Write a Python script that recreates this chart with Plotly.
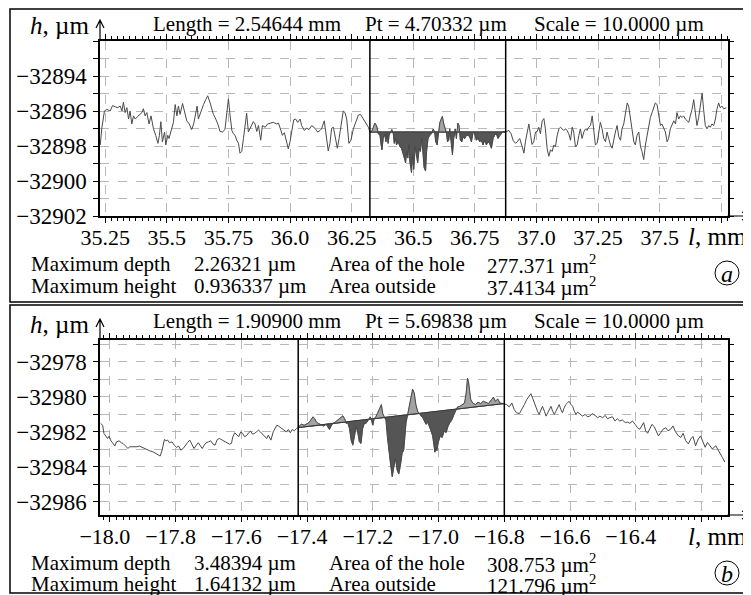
import numpy as np
import plotly.graph_objects as go

W, H = 751, 595
SERIF = "Liberation Serif"

# ── Panel (a): measured profile, l in mm, h in µm ────────────────────────────
x_a = [
    35.230, 35.236, 35.247, 35.257, 35.270, 35.280, 35.291, 35.301, 35.311, 35.318,
    35.324, 35.331, 35.338, 35.345, 35.351, 35.358, 35.365, 35.372, 35.382, 35.392,
    35.399, 35.405, 35.412, 35.419, 35.428, 35.436, 35.446, 35.455, 35.464, 35.470,
    35.476, 35.482, 35.491, 35.496, 35.504, 35.509, 35.518, 35.527, 35.534, 35.541,
    35.547, 35.554, 35.564, 35.572, 35.581, 35.591, 35.601, 35.609, 35.618, 35.623,
    35.628, 35.639, 35.649, 35.658, 35.666, 35.676, 35.682, 35.689, 35.696, 35.707,
    35.716, 35.726, 35.736, 35.743, 35.750, 35.757, 35.764, 35.770, 35.777, 35.784,
    35.791, 35.797, 35.804, 35.811, 35.818, 35.824, 35.831, 35.838, 35.845, 35.851,
    35.858, 35.865, 35.872, 35.881, 35.888, 35.899, 35.909, 35.919, 35.932, 35.946,
    35.953, 35.961, 35.969, 35.977, 35.986, 35.993, 36.000, 36.007, 36.015, 36.023,
    36.031, 36.041, 36.047, 36.058, 36.068, 36.077, 36.088, 36.101, 36.112, 36.122,
    36.128, 36.139, 36.149, 36.155, 36.162, 36.169, 36.176, 36.182, 36.192, 36.199,
    36.209, 36.216, 36.223, 36.230, 36.239, 36.247, 36.257, 36.266, 36.277, 36.286,
    36.297, 36.307, 36.318, 36.324,
    36.331, 36.338, 36.344, 36.351, 36.358, 36.365, 36.369, 36.373, 36.378, 36.385,
    36.389, 36.394, 36.398, 36.402, 36.408, 36.413, 36.419, 36.423, 36.428, 36.432,
    36.439, 36.446, 36.452, 36.459, 36.464, 36.469, 36.473, 36.478, 36.482, 36.486,
    36.493, 36.497, 36.502, 36.508, 36.513, 36.518, 36.524, 36.529, 36.535, 36.540,
    36.544, 36.550, 36.554, 36.560, 36.567, 36.574, 36.581, 36.587, 36.591, 36.597,
    36.601, 36.608, 36.613, 36.618, 36.624, 36.629, 36.635, 36.639, 36.644, 36.648,
    36.654, 36.659, 36.664, 36.670, 36.675, 36.681, 36.686, 36.691, 36.697, 36.702,
    36.709, 36.716, 36.722, 36.729, 36.736, 36.743, 36.749, 36.756, 36.763, 36.770,
    36.776, 36.783, 36.790, 36.797, 36.803, 36.810, 36.817, 36.824, 36.830, 36.837,
    36.844, 36.851, 36.857, 36.864, 36.875,
    36.888, 36.897, 36.905, 36.915, 36.924, 36.932, 36.942, 36.949, 36.955, 36.962,
    36.969, 36.976, 36.982, 36.989, 36.996, 37.003, 37.009, 37.016, 37.023, 37.030,
    37.036, 37.043, 37.050, 37.057, 37.064, 37.070, 37.077, 37.084, 37.091, 37.097,
    37.104, 37.111, 37.118, 37.124, 37.131, 37.138, 37.145, 37.151, 37.158, 37.165,
    37.172, 37.178, 37.185, 37.192, 37.199, 37.205, 37.212, 37.219, 37.226, 37.232,
    37.239, 37.246, 37.253, 37.259, 37.266, 37.273, 37.280, 37.286, 37.293, 37.300,
    37.307, 37.314, 37.320, 37.327, 37.334, 37.341, 37.347, 37.354, 37.361, 37.368,
    37.374, 37.381, 37.388, 37.395, 37.401, 37.408, 37.415, 37.422, 37.428, 37.435,
    37.442, 37.449, 37.455, 37.462, 37.469, 37.476, 37.482, 37.489, 37.496, 37.503,
    37.509, 37.516, 37.523, 37.530, 37.536, 37.543, 37.550, 37.557, 37.564, 37.570,
    37.577, 37.584, 37.591, 37.597, 37.604, 37.611, 37.618, 37.624, 37.631, 37.638,
    37.645, 37.651, 37.658, 37.665, 37.672, 37.678, 37.685, 37.692, 37.699, 37.705,
    37.712, 37.719, 37.726, 37.732, 37.739, 37.746, 37.753, 37.759, 37.770,
]
h_a = [
    -32897.94, -32897.02, -32896.00, -32895.91, -32896.00, -32895.69, -32895.76, -32895.81, -32895.72, -32896.00,
    -32895.50, -32896.09, -32895.81, -32896.46, -32896.00, -32896.74, -32896.28, -32896.46, -32896.31, -32896.19,
    -32896.09, -32895.87, -32896.28, -32896.09, -32896.74, -32896.28, -32897.02, -32897.39, -32897.85, -32897.39,
    -32896.61, -32897.76, -32897.20, -32897.94, -32897.39, -32897.57, -32897.11, -32896.65, -32895.63, -32896.28,
    -32895.72, -32896.19, -32895.57, -32896.00, -32896.56, -32896.74, -32897.06, -32896.74, -32896.19, -32895.72,
    -32896.46, -32896.00, -32895.63, -32895.35, -32895.13, -32895.54, -32895.91, -32896.19, -32896.37, -32896.74,
    -32897.17, -32897.20, -32897.06, -32896.09, -32895.31, -32896.28, -32897.11, -32897.30, -32897.39, -32897.67,
    -32897.85, -32898.41, -32898.31, -32897.57, -32896.83, -32896.13, -32897.20, -32897.02, -32896.83, -32896.61,
    -32896.74, -32897.17, -32896.83, -32897.67, -32896.83, -32896.93, -32896.74, -32896.69, -32896.65, -32896.74,
    -32896.69, -32897.02, -32897.39, -32897.24, -32897.76, -32898.17, -32897.76, -32897.20, -32896.50, -32896.46,
    -32896.65, -32896.46, -32896.83, -32897.11, -32896.98, -32897.06, -32896.83, -32896.98, -32897.20, -32897.11,
    -32897.02, -32896.56, -32897.76, -32898.28, -32897.85, -32896.98, -32896.93, -32897.39, -32898.13, -32897.57,
    -32896.46, -32896.00, -32896.09, -32896.46, -32897.85, -32897.67, -32897.02, -32896.65, -32896.24, -32896.19,
    -32896.46, -32896.74, -32896.93, -32897.20,
    -32897.17, -32896.93, -32896.69, -32896.83, -32897.30, -32897.39, -32897.94, -32898.22, -32897.57, -32897.35,
    -32897.76, -32897.30, -32897.85, -32897.39, -32897.20, -32897.06, -32897.30, -32897.85, -32897.57, -32897.94,
    -32897.76, -32898.04, -32898.13, -32898.41, -32898.69, -32898.96, -32898.31, -32898.69, -32897.94, -32898.87,
    -32899.52, -32898.50, -32899.33, -32898.04, -32898.69, -32898.96, -32898.13, -32898.31, -32897.57, -32898.59,
    -32899.24, -32899.43, -32898.31, -32897.57, -32897.39, -32897.30, -32897.02, -32897.20, -32897.76, -32897.94,
    -32897.30, -32896.65, -32896.46, -32896.31, -32896.74, -32897.02, -32897.30, -32897.76, -32897.67, -32897.02,
    -32897.76, -32898.50, -32897.57, -32897.02, -32897.57, -32896.69, -32896.83, -32897.67, -32897.76, -32897.48,
    -32897.57, -32897.39, -32897.39, -32897.48, -32897.76, -32897.20, -32897.30, -32897.67, -32897.57, -32897.76,
    -32897.67, -32897.94, -32897.67, -32897.94, -32897.76, -32897.85, -32898.13, -32897.57, -32897.39, -32897.30,
    -32897.57, -32897.39, -32897.30, -32897.17, -32897.20,
    -32897.11, -32897.30, -32897.67, -32897.85, -32897.72, -32897.57, -32898.04, -32898.41, -32897.76, -32897.20,
    -32896.74, -32897.39, -32897.91, -32897.76, -32897.20, -32897.17, -32896.93, -32897.30, -32896.56, -32896.43,
    -32897.02, -32898.13, -32898.59, -32898.22, -32898.31, -32897.94, -32898.04, -32897.39, -32897.02, -32896.93,
    -32897.02, -32897.11, -32897.02, -32897.11, -32897.30, -32897.67, -32896.93, -32897.20, -32898.04, -32897.94,
    -32897.39, -32897.02, -32897.57, -32897.20, -32897.02, -32897.11, -32896.93, -32896.83, -32896.28, -32897.11,
    -32897.94, -32897.85, -32897.11, -32896.65, -32897.02, -32897.57, -32897.76, -32897.20, -32897.57, -32897.94,
    -32898.13, -32897.57, -32897.20, -32896.83, -32897.48, -32897.67, -32897.02, -32896.74, -32896.19, -32895.54,
    -32895.72, -32896.46, -32897.02, -32897.76, -32897.94, -32897.39, -32897.20, -32898.04, -32898.31, -32898.78,
    -32897.94, -32897.39, -32896.74, -32896.37, -32896.09, -32895.72, -32895.54, -32895.63, -32896.28, -32896.83,
    -32896.74, -32897.02, -32897.20, -32897.76, -32897.57, -32897.02, -32896.74, -32896.56, -32896.74, -32896.09,
    -32896.46, -32896.28, -32896.37, -32896.28, -32896.46, -32896.56, -32896.65, -32896.28, -32895.91, -32895.35,
    -32896.09, -32896.83, -32896.37, -32895.72, -32894.98, -32895.91, -32896.83, -32897.02, -32896.83, -32896.93,
    -32896.74, -32896.83, -32896.46, -32895.91, -32895.54, -32895.82, -32895.72, -32895.87, -32895.82,
]
cursors_a = [36.324, 36.875]
ref_a = [-32897.20, -32897.20]

xticks_a = [35.25, 35.5, 35.75, 36.0, 36.25, 36.5, 36.75, 37.0, 37.25, 37.5, 37.75]
xlabels_a = ["35.25", "35.5", "35.75", "36.0", "36.25", "36.5", "36.75", "37.0", "37.25", "37.5", ""]
yticks_a = [-32902, -32901, -32900, -32899, -32898, -32897, -32896, -32895, -32894, -32893, -32892]
ylabels_a = ["−32902", "", "−32900", "", "−32898", "", "−32896", "", "−32894", "", ""]
header_a = ["Length = 2.54644 mm", "Pt = 4.70332 µm", "Scale = 10.0000 µm"]
info_a = [
    ["Maximum depth", "2.26321 µm", "Area of the hole", "277.371 µm<sup>2</sup>"],
    ["Maximum height", "0.936337 µm", "Area outside", "37.4134 µm<sup>2</sup>"],
]

# ── Panel (b) ────────────────────────────────────────────────────────────────
x_b = [
    -18.028, -18.022, -18.018, -18.012, -18.007, -18.002, -17.998, -17.992, -17.985, -17.980,
    -17.972, -17.965, -17.960, -17.952, -17.945, -17.940, -17.932, -17.925, -17.918, -17.910,
    -17.902, -17.894, -17.887, -17.879, -17.869, -17.859, -17.851, -17.847, -17.841, -17.834,
    -17.829, -17.824, -17.819, -17.811, -17.804, -17.797, -17.791, -17.784, -17.777, -17.771,
    -17.764, -17.757, -17.751, -17.744, -17.739, -17.731, -17.724, -17.719, -17.713, -17.707,
    -17.700, -17.693, -17.686, -17.680, -17.673, -17.666, -17.658, -17.650, -17.643, -17.636,
    -17.630, -17.626, -17.620, -17.613, -17.608, -17.602, -17.596, -17.590, -17.583, -17.578,
    -17.572, -17.566, -17.560, -17.554, -17.548, -17.542, -17.538, -17.533, -17.528, -17.523,
    -17.518, -17.510, -17.503, -17.498, -17.492, -17.487, -17.481, -17.475, -17.469, -17.463,
    -17.457, -17.451, -17.445, -17.439, -17.432, -17.427,
    -17.422, -17.417, -17.409, -17.402, -17.395, -17.389, -17.382, -17.377, -17.372, -17.365,
    -17.357, -17.349, -17.342, -17.337, -17.332, -17.327, -17.322, -17.317, -17.307, -17.299,
    -17.291, -17.286, -17.281, -17.276, -17.271, -17.266, -17.261, -17.256, -17.251, -17.246,
    -17.241, -17.236, -17.231, -17.226, -17.221, -17.214, -17.208, -17.204, -17.200, -17.196,
    -17.191, -17.186, -17.180, -17.174, -17.170, -17.166, -17.160, -17.156, -17.151, -17.146,
    -17.141, -17.136, -17.131, -17.126, -17.121, -17.116, -17.111, -17.106, -17.103, -17.099,
    -17.094, -17.089, -17.084, -17.079, -17.074, -17.069, -17.063, -17.058, -17.053, -17.048,
    -17.043, -17.038, -17.033, -17.028, -17.023, -17.018, -17.015, -17.011, -17.008, -17.005,
    -17.001, -16.995, -16.989, -16.983, -16.977, -16.971, -16.965, -16.959, -16.953, -16.947,
    -16.942, -16.935, -16.927, -16.921, -16.916, -16.912, -16.909, -16.906, -16.902, -16.896,
    -16.888, -16.880, -16.872, -16.864, -16.856, -16.848, -16.839, -16.833, -16.827, -16.820,
    -16.813, -16.807, -16.800,
    -16.793, -16.785, -16.777, -16.770, -16.763, -16.754, -16.746, -16.739, -16.732, -16.726,
    -16.719, -16.714, -16.709, -16.704, -16.699, -16.694, -16.689, -16.684, -16.678, -16.673,
    -16.668, -16.663, -16.658, -16.653, -16.648, -16.643, -16.638, -16.633, -16.628, -16.623,
    -16.618, -16.613, -16.608, -16.603, -16.597, -16.592, -16.587, -16.582, -16.577, -16.572,
    -16.562, -16.554, -16.547, -16.540, -16.532, -16.524, -16.516, -16.509, -16.501, -16.493,
    -16.486, -16.479, -16.471, -16.463, -16.456, -16.449, -16.441, -16.432, -16.425, -16.418,
    -16.410, -16.402, -16.395, -16.388, -16.382, -16.376, -16.370, -16.364, -16.357, -16.351,
    -16.344, -16.337, -16.331, -16.324, -16.317, -16.309, -16.302, -16.294, -16.287, -16.279,
    -16.270, -16.263, -16.256, -16.248, -16.240, -16.233, -16.226, -16.218, -16.210, -16.203,
    -16.197, -16.189, -16.182, -16.175, -16.167, -16.157, -16.147, -16.137, -16.129,
]
h_b = [
    -32981.52, -32981.62, -32982.09, -32982.28, -32982.38, -32982.24, -32982.47, -32982.62, -32982.81, -32982.57,
    -32982.51, -32982.62, -32982.66, -32982.81, -32982.95, -32982.85, -32982.85, -32982.89, -32982.85, -32982.81,
    -32982.89, -32982.95, -32983.00, -32983.08, -32983.14, -32983.23, -32983.33, -32983.38, -32983.04, -32982.43,
    -32982.51, -32982.47, -32982.62, -32982.57, -32982.76, -32982.89, -32982.81, -32983.04, -32982.95, -32982.76,
    -32982.62, -32982.47, -32982.70, -32982.95, -32982.81, -32982.62, -32982.81, -32982.95, -32982.76, -32982.62,
    -32982.57, -32982.51, -32982.70, -32982.76, -32982.43, -32982.38, -32982.47, -32982.57, -32982.62, -32982.70,
    -32982.66, -32982.28, -32982.05, -32982.19, -32982.28, -32982.00, -32982.09, -32982.28, -32982.19, -32982.05,
    -32981.96, -32982.13, -32982.09, -32982.00, -32981.90, -32982.00, -32982.09, -32982.19, -32982.28, -32982.38,
    -32982.19, -32982.47, -32982.00, -32981.81, -32981.62, -32981.67, -32981.75, -32981.86, -32981.90, -32982.00,
    -32981.86, -32982.05, -32981.86, -32981.94, -32981.81, -32981.75,
    -32981.62, -32981.56, -32981.62, -32981.56, -32981.48, -32981.33, -32981.14, -32981.24, -32981.43, -32981.52,
    -32981.62, -32981.67, -32981.56, -32981.71, -32981.86, -32981.67, -32981.52, -32981.48, -32981.33, -32981.18,
    -32981.08, -32981.24, -32981.52, -32981.48, -32981.81, -32982.47, -32982.76, -32982.28, -32981.71, -32982.00,
    -32982.57, -32982.66, -32981.81, -32981.52, -32981.52, -32981.33, -32981.14, -32981.33, -32981.62, -32981.24,
    -32981.14, -32980.95, -32980.67, -32980.44, -32980.95, -32981.14, -32981.33, -32982.28, -32983.04, -32983.90,
    -32984.56, -32983.99, -32983.52, -32984.18, -32984.41, -32983.90, -32983.23, -32983.04, -32982.30, -32981.47,
    -32981.00, -32980.54, -32979.97, -32979.56, -32979.78, -32980.44, -32980.87, -32980.95, -32981.10, -32981.19,
    -32981.38, -32981.57, -32981.44, -32981.76, -32981.94, -32982.23, -32982.79, -32983.16, -32982.88, -32983.07,
    -32982.60, -32982.23, -32982.32, -32981.94, -32982.04, -32981.66, -32981.47, -32981.29, -32981.00, -32980.72,
    -32980.57, -32980.54, -32980.44, -32980.35, -32979.78, -32978.94, -32979.13, -32979.60, -32980.16, -32980.35,
    -32980.44, -32980.31, -32980.38, -32980.25, -32980.31, -32980.38, -32980.16, -32980.01, -32980.25, -32980.12,
    -32980.35, -32980.38, -32980.38,
    -32980.44, -32980.57, -32980.35, -32980.72, -32980.91, -32980.95, -32980.72, -32980.44, -32980.16, -32979.97,
    -32979.82, -32980.07, -32980.35, -32980.57, -32980.82, -32981.00, -32980.72, -32980.54, -32980.82, -32981.10,
    -32980.91, -32980.72, -32980.54, -32980.82, -32981.00, -32980.82, -32980.63, -32980.44, -32980.72, -32980.91,
    -32980.63, -32980.44, -32980.35, -32980.25, -32980.44, -32980.54, -32980.82, -32981.00, -32980.87, -32980.95,
    -32981.10, -32981.00, -32981.14, -32981.10, -32980.95, -32981.06, -32981.19, -32981.10, -32981.19, -32981.06,
    -32981.25, -32981.19, -32981.14, -32981.38, -32981.25, -32981.38, -32981.32, -32981.47, -32981.44, -32981.51,
    -32981.38, -32981.57, -32981.76, -32981.85, -32981.66, -32981.47, -32981.94, -32982.08, -32981.81, -32981.57,
    -32981.70, -32982.00, -32982.23, -32982.04, -32981.85, -32981.76, -32981.94, -32981.85, -32981.66, -32982.00,
    -32982.23, -32982.32, -32982.08, -32982.51, -32982.69, -32982.41, -32982.26, -32982.79, -32982.41, -32982.23,
    -32982.51, -32982.88, -32982.60, -32982.79, -32982.98, -32982.79, -32983.16, -32983.45, -32983.73,
]
cursors_b = [-17.427, -16.800]
ref_b = [-32981.75, -32980.38]

xticks_b = [-18.0, -17.8, -17.6, -17.4, -17.2, -17.0, -16.8, -16.6, -16.4, -16.2]
xlabels_b = ["−18.0", "−17.8", "−17.6", "−17.4", "−17.2", "−17.0", "−16.8", "−16.6", "−16.4", ""]
yticks_b = [-32986, -32985, -32984, -32983, -32982, -32981, -32980, -32979, -32978, -32977]
ylabels_b = ["−32986", "", "−32984", "", "−32982", "", "−32980", "", "−32978", ""]
header_b = ["Length = 1.90900 mm", "Pt = 5.69838 µm", "Scale = 10.0000 µm"]
info_b = [
    ["Maximum depth", "3.48394 µm", "Area of the hole", "308.753 µm<sup>2</sup>"],
    ["Maximum height", "1.64132 µm", "Area outside", "121.796 µm<sup>2</sup>"],
]

# the page body adds an 8 px offset, so window pixels are shifted back by it
OFF = 8


def px(x):
    return (x - OFF) / W


def py(y):
    return 1 - (y - OFF) / H


def split_at_ref(x, h, cur, ref):
    """Profile between the cursors, with points added where it crosses the reference line."""
    x = np.asarray(x, float)
    h = np.asarray(h, float)
    m = (x >= cur[0] - 1e-9) & (x <= cur[1] + 1e-9)
    xs, hs = x[m], h[m]
    d = hs - np.interp(xs, cur, ref)
    xx, hh = [xs[0]], [hs[0]]
    for i in range(1, len(xs)):
        if d[i - 1] * d[i] < 0:
            t = d[i - 1] / (d[i - 1] - d[i])
            xx.append(xs[i - 1] + t * (xs[i] - xs[i - 1]))
            hh.append(hs[i - 1] + t * (hs[i] - hs[i - 1]))
        xx.append(xs[i])
        hh.append(hs[i])
    xx, hh = np.array(xx), np.array(hh)
    return xx, hh, np.interp(xx, cur, ref)


panels = [
    dict(x=x_a, h=h_a, cur=cursors_a, ref=ref_a, xr=[35.229, 37.775], yr=[-32902, -32892],
         xt=xticks_a, xl=xlabels_a, yt=yticks_a, yl=ylabels_a, minor=0.025, m0=35.25,
         head=header_a, info=info_a, tag="a", shift=0,
         top=41, bottom=216, frame=(9, 302), head_y=24, rows_y=(264, 286), tag_y=273),
    dict(x=x_b, h=h_b, cur=cursors_b, ref=ref_b, xr=[-18.03, -16.121], yr=[-32986.75, -32976.75],
         xt=xticks_b, xl=xlabels_b, yt=yticks_b, yl=ylabels_b, minor=0.02, m0=-18.0,
         head=header_b, info=info_b, tag="b", shift=-5,
         top=340, bottom=515, frame=(305, 593), head_y=321, rows_y=(563, 584), tag_y=573),
]

LEFT, RIGHT = 100, 727.5
head_x = [151, 363, 532]
info_x = [29, 192, 327, 485]
font_txt = dict(family=SERIF, size=21, color="black")

fig = go.Figure()
shapes, annotations = [], []

for i, p in enumerate(panels):
    sfx = "" if i == 0 else str(i + 1)
    xa, ya = "x" + sfx, "y" + sfx

    xx, hh, rr = split_at_ref(p["x"], p["h"], p["cur"], p["ref"])
    lower = np.minimum(hh, rr)
    upper = np.maximum(hh, rr)
    fig.add_trace(go.Scatter(
        x=np.concatenate([xx, xx[::-1]]), y=np.concatenate([lower, rr[::-1]]),
        fill="toself", fillcolor="#555555", line=dict(color="#3a3a3a", width=0.6),
        mode="lines", xaxis=xa, yaxis=ya, showlegend=False, hoverinfo="skip"))
    fig.add_trace(go.Scatter(
        x=np.concatenate([xx, xx[::-1]]), y=np.concatenate([upper, rr[::-1]]),
        fill="toself", fillcolor="#a3a3a3", line=dict(color="#7a7a7a", width=0.6),
        mode="lines", xaxis=xa, yaxis=ya, showlegend=False, hoverinfo="skip"))
    fig.add_trace(go.Scatter(
        x=p["cur"], y=p["ref"], mode="lines", line=dict(color="#333333", width=1),
        xaxis=xa, yaxis=ya, showlegend=False, hoverinfo="skip"))
    fig.add_trace(go.Scatter(
        x=p["x"], y=p["h"], mode="lines", line=dict(color="#4a4a4a", width=1),
        xaxis=xa, yaxis=ya, showlegend=False))

    common = dict(showline=True, linecolor="black", linewidth=1.5, mirror="allticks",
                  ticks="outside", ticklen=5, tickwidth=1, tickcolor="black",
                  showgrid=True, gridcolor="#b8b8b8", griddash="dash", gridwidth=1,
                  zeroline=False, tickmode="array", automargin=False)
    fig.layout["xaxis" + sfx] = dict(
        common, domain=[px(LEFT), px(RIGHT)], range=p["xr"], anchor=ya,
        tickvals=p["xt"], ticktext=p["xl"], ticklabelshift=p["shift"],
        ticklabelstandoff=-4,
        tickfont=dict(family=SERIF, size=22, color="black"),
        minor=dict(dtick=p["minor"], tick0=p["m0"], ticks="outside", ticklen=3,
                   tickcolor="black", showgrid=False))
    fig.layout["yaxis" + sfx] = dict(
        common, domain=[py(p["bottom"]), py(p["top"])], range=p["yr"], anchor=xa,
        tickvals=p["yt"], ticktext=p["yl"], ticklabelstandoff=2,
        tickfont=dict(family=SERIF, size=23, color="black"))

    # cursor lines
    for c in p["cur"]:
        shapes.append(dict(type="line", xref=xa, yref=ya + " domain", x0=c, x1=c, y0=0, y1=1,
                           line=dict(color="black", width=1.5)))
    # panel frame
    f0, f1 = p["frame"]
    shapes.append(dict(type="rect", xref="paper", yref="paper", x0=px(10), x1=px(790),
                       y0=py(f1), y1=py(f0), line=dict(color="black", width=1.5)))
    # circled tag
    shapes.append(dict(type="circle", xref="paper", yref="paper", xsizemode="pixel",
                       ysizemode="pixel", xanchor=px(727), yanchor=py(p["tag_y"]),
                       x0=-12, x1=12, y0=-12, y1=12, line=dict(color="black", width=1)))
    annotations.append(dict(text=f"<i>{p['tag']}</i>", x=px(727), y=py(p["tag_y"] + 1),
                            xref="paper", yref="paper", showarrow=False,
                            xanchor="center", yanchor="middle",
                            font=dict(family=SERIF, size=24, color="black")))

    # axis arrows (line extensions with open chevron heads)
    b, t = p["bottom"], p["top"]
    shapes.append(dict(type="path", xref="paper", yref="paper",
                       path=f"M{px(RIGHT)},{py(b)} L{px(750)},{py(b)} "
                            f"M{px(742)},{py(b - 4)} L{px(750)},{py(b)} L{px(742)},{py(b + 4)}",
                       line=dict(color="black", width=1.2)))
    shapes.append(dict(type="path", xref="paper", yref="paper",
                       path=f"M{px(LEFT)},{py(t)} L{px(LEFT)},{py(t - 21)} "
                            f"M{px(LEFT - 4)},{py(t - 13)} L{px(LEFT)},{py(t - 21)} "
                            f"L{px(LEFT + 4)},{py(t - 13)}",
                       line=dict(color="black", width=1.2)))
    # axis titles
    annotations.append(dict(text="<i>h</i>, µm", x=px(28), y=py(t - 16), xref="paper",
                            yref="paper", showarrow=False, xanchor="left", yanchor="middle",
                            font=dict(family=SERIF, size=25, color="black")))
    annotations.append(dict(text="<i>l</i>, mm", x=px(686), y=py(b + 21),
                            xref="paper", yref="paper", showarrow=False, xanchor="left",
                            yanchor="middle", font=dict(family=SERIF, size=25, color="black")))
    # header
    for txt, hx in zip(p["head"], head_x):
        annotations.append(dict(text=txt, x=px(hx), y=py(p["head_y"]), xref="paper",
                                yref="paper", showarrow=False, xanchor="left",
                                yanchor="middle", font=font_txt))
    # info rows
    for row, ry in zip(p["info"], p["rows_y"]):
        for txt, ix in zip(row, info_x):
            annotations.append(dict(text=txt, x=px(ix), y=py(ry), xref="paper", yref="paper",
                                    showarrow=False, xanchor="left", yanchor="middle",
                                    font=font_txt))

fig.update_layout(
    width=W, height=H,
    margin=dict(l=0, r=0, t=0, b=0),
    paper_bgcolor="white", plot_bgcolor="white",
    shapes=shapes, annotations=annotations,
    showlegend=False,
)

fig.write_html("out.html")
